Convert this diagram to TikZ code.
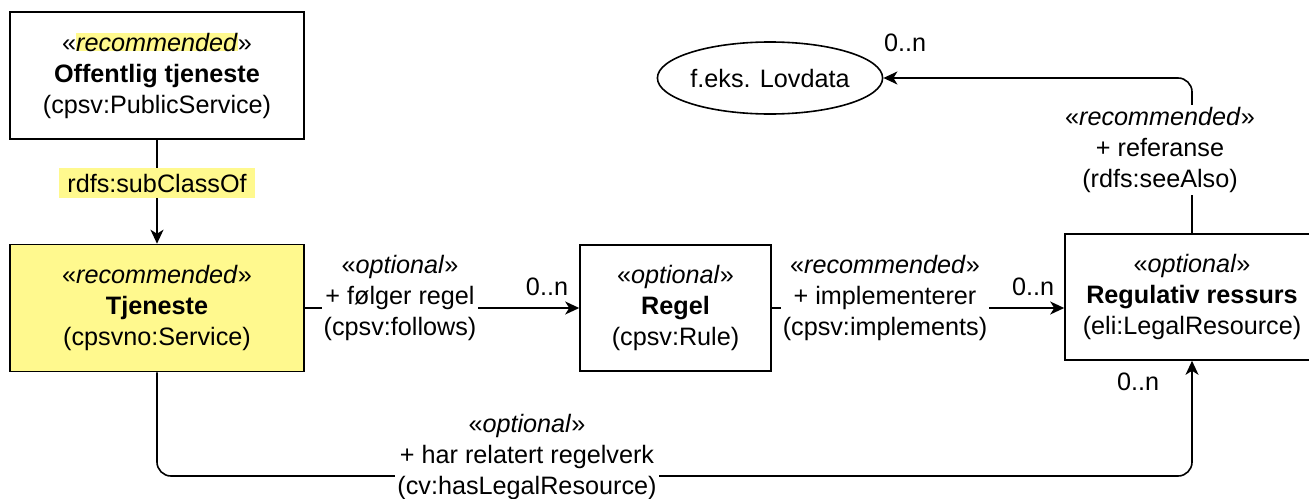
\documentclass[tikz,border=0pt]{standalone}
\usepackage{fontspec}
\setmainfont{Liberation Sans}
\usetikzlibrary{shapes,arrows,arrows.meta,positioning}
\definecolor{hlYellow}{HTML}{FFF98E}
\tikzstyle{classBox} = [rectangle, draw, line width=0.8pt, align=center, minimum width=147pt, minimum height=63.5pt, inner sep=0pt]
\tikzstyle{refOval} = [ellipse, draw, line width=0.8pt, minimum width=106pt, minimum height=36pt, inner sep=0pt]
\tikzstyle{edgeLbl} = [fill=white, align=center, inner sep=1pt]
\tikzstyle{mult} = [inner sep=0pt]
\tikzstyle{line} = [draw, line width=0.8pt, -{Stealth[length=7pt,width=6.5pt,inset=2pt]}, rounded corners=7pt]
\newcommand{\stereo}[1]{«\textit{#1}»}

\begin{document}
\begin{tikzpicture}[x=0.5pt, y=-0.5pt,
  font=\fontsize{12.6}{15.5}\selectfont
  ]
  \useasboundingbox (0,0) rectangle (1309,498);

    % nodes
    \node [classBox] (pubServ) at (157,75.5) {«{\setlength{\fboxsep}{0pt}\colorbox{hlYellow}{\textit{recommended}}}»\\\textbf{Offentlig tjeneste}\\(cpsv:PublicService)};
    \node [classBox, fill=hlYellow] (tjeneste) at (157,308) {\stereo{recommended}\\\textbf{Tjeneste}\\(cpsvno:Service)};
    \node [classBox, minimum width=95.5pt, minimum height=63pt] (regel) at (675.5,308) {\stereo{optional}\\\textbf{Regel}\\(cpsv:Rule)};
    \node [classBox, minimum width=127pt, minimum height=63pt] (legalRes) at (1192,297) {\stereo{optional}\\\textbf{Regulativ ressurs}\\(eli:LegalResource)};
    \node [refOval] (lovdata) at (770,78) {f.eks. Lovdata};

    % edges
    \path [line] (pubServ) -- (tjeneste);
    \path [line] (tjeneste.east) -- (regel.west);
    \path [line] (regel.east) -- (regel.east -| legalRes.west);
    \path [line] (legalRes.north) |- (lovdata.east);
    \coordinate (bottomBus) at (0,476);
    \path [line] (tjeneste.south) |- (bottomBus -| legalRes.south) -- (legalRes.south);

    % labels
    \node [fill=hlYellow, inner xsep=4pt, inner ysep=3pt] (subClassLbl) at (157,183) {rdfs:subClassOf};
    \node [edgeLbl] (followsLbl) at (400,298) {\stereo{optional}\\+ følger regel\\(cpsv:follows)};
    \node [mult] (followsMult) at (547,287) {0..n};
    \node [edgeLbl] (implLbl) at (885,298) {\stereo{recommended}\\+ implementerer\\(cpsv:implements)};
    \node [mult] (implMult) at (1033,287) {0..n};
    \node [edgeLbl] (seeAlsoLbl) at (1160,150) {\stereo{recommended}\\+ referanse\\(rdfs:seeAlso)};
    \node [mult] (seeAlsoMult) at (905,43) {0..n};
    \node [edgeLbl] (hasLegalLbl) at (527,457) {\stereo{optional}\\+ har relatert regelverk\\(cv:hasLegalResource)};
    \node [mult] (hasLegalMult) at (1138,382) {0..n};

  \end{tikzpicture}
\end{document}
